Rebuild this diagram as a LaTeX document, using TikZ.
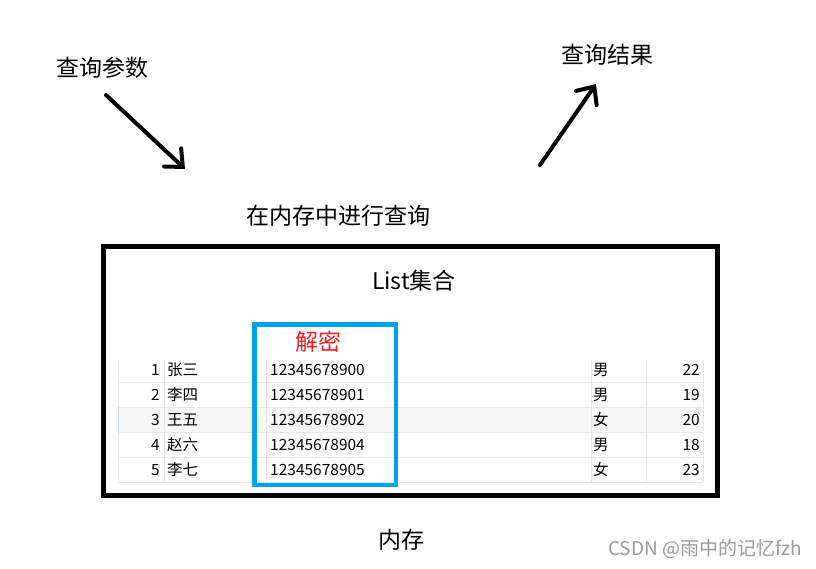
\documentclass[tikz,border=0pt]{standalone}
\usepackage{fontspec}
\setmainfont{Noto Sans CJK SC}
\usetikzlibrary{arrows.meta}
\definecolor{kirmizi}{HTML}{ED1C24}
\definecolor{mavi}{HTML}{00A2E8}
\definecolor{cizgiGri}{HTML}{E6E6E6}
\definecolor{satirGri}{HTML}{F7F7F7}
\definecolor{acikMavi}{HTML}{D3E3F3}
\definecolor{yaziGri}{HTML}{9A9A9A}

\begin{document}
\begin{tikzpicture}[x=1pt,y=-1pt,
  baslik/.style={font=\fontsize{23}{27}\selectfont,inner sep=0pt},
  hucre/.style={font=\fontsize{15.5}{18}\selectfont,inner sep=0pt},
  ok/.style={line width=4pt,line cap=round,-{Straight Barb[length=14pt,width=25pt,line cap=round]}}]
\useasboundingbox (0,0) rectangle (816,568);
% ust yazilar ve oklar
\node[baslik] (param) at (102,68) {查询参数};
\node[baslik] (sonuc) at (607,55) {查询结果};
\coordinate (ok1bas) at (106,95);
\coordinate (ok1uc) at (185,169);
\coordinate (ok2bas) at (540,165);
\coordinate (ok2uc) at (596,84);
\draw[ok] (ok1bas) -- (ok1uc);
\draw[ok] (ok2bas) -- (ok2uc);
\node[baslik] (sorgu) at (338,216) {在内存中进行查询};
% bellek kutusu
\draw[line width=5pt] (103.5,246.5) rectangle (717.5,495.5);
\node[baslik] (liste) at (414,281) {List集合};
% tablo
\fill[satirGri] (118,407) rectangle (703,432);
\foreach \yy in {382,407,432,457,482}
  \draw[cizgiGri] (118,\yy) -- (703,\yy);
\foreach \xx in {164,266,591,646,703}
  \draw[cizgiGri] (\xx,360) -- (\xx,482);
\draw[cizgiGri] (118,360) -- (118,482);
\draw[acikMavi,line width=1pt] (118,407) -- (118,432);
\foreach \i/\ad/\tel/\cins/\yas in {1/张三/12345678900/男/22,2/李四/12345678901/男/19,
    3/王五/12345678902/女/20,4/赵六/12345678904/男/18,5/李七/12345678905/女/23}{
  \node[hucre,anchor=east] (no\i) at (160,345+25*\i) {\i};
  \node[hucre,anchor=west] (ad\i) at (167,345+25*\i) {\ad};
  \node[hucre,anchor=west] (tel\i) at (270,345+25*\i) {\tel};
  \node[hucre,anchor=west] (cins\i) at (593,345+25*\i) {\cins};
  \node[hucre,anchor=east] (yas\i) at (700,345+25*\i) {\yas};
}
% sifre cozme
\draw[mavi,line width=4.5pt] (254.5,324.5) rectangle (396,485);
\node[baslik,kirmizi] (coz) at (318,342) {解密};
\node[baslik] (bellek) at (401,540) {内存};
\node[font=\fontsize{19}{22}\selectfont,text=yaziGri,inner sep=0pt] (imza) at (705,549) {CSDN @雨中的记忆fzh};
\end{tikzpicture}
\end{document}
